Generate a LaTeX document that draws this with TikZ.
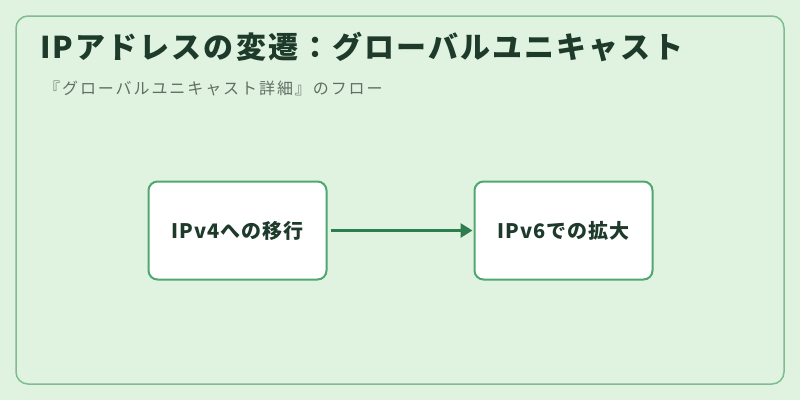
\documentclass[tikz,border=0pt]{standalone}
\usepackage{fontspec}
\setmainfont{Noto Sans CJK JP}
\usetikzlibrary{arrows.meta}
\definecolor{bgc}{HTML}{E0F2E0}
\definecolor{framec}{HTML}{80BC90}
\definecolor{boxc}{HTML}{50A870}
\definecolor{arrc}{HTML}{2E7D4F}
\definecolor{titlec}{HTML}{1E3A2A}
\definecolor{subc}{HTML}{5F6F63}
\tikzset{
  stepbox/.style={draw=boxc, line width=2pt, fill=white, rounded corners=9pt, minimum width=178pt, minimum height=98pt, inner sep=0pt, font=\fontsize{20pt}{24pt}\selectfont\bfseries\addfontfeatures{LetterSpace=5}, text=titlec},
  flow/.style={draw=arrc, line width=3pt, -{Triangle[length=12pt,width=14pt]}}
}
\begin{document}
\begin{tikzpicture}[x=1pt,y=-1pt]
\fill[bgc] (0,0) rectangle (800,400);
\useasboundingbox (0,0) rectangle (800,400);
\draw[framec, line width=1.5pt, rounded corners=12pt] (16,16) rectangle (784,384);
\node[anchor=base west, inner sep=0pt, text=titlec, font=\fontsize{30pt}{34pt}\selectfont\bfseries\addfontfeatures{LetterSpace=7}] (title) at (40,58) {IPアドレスの変遷：グローバルユニキャスト};
\node[anchor=base west, inner sep=0pt, text=subc, font=\fontsize{16pt}{20pt}\selectfont\addfontfeatures{LetterSpace=12}] (sub) at (44,94) {『グローバルユニキャスト詳細』のフロー};
\node[stepbox] (a) at (237.5,230.5) {IPv4への移行};
\node[stepbox] (b) at (563.5,230.5) {IPv6での拡大};
\draw[flow] (a.east) ++(3,0) coordinate (s) (s) -- ([xshift=-1pt]b.west);
\end{tikzpicture}
\end{document}
